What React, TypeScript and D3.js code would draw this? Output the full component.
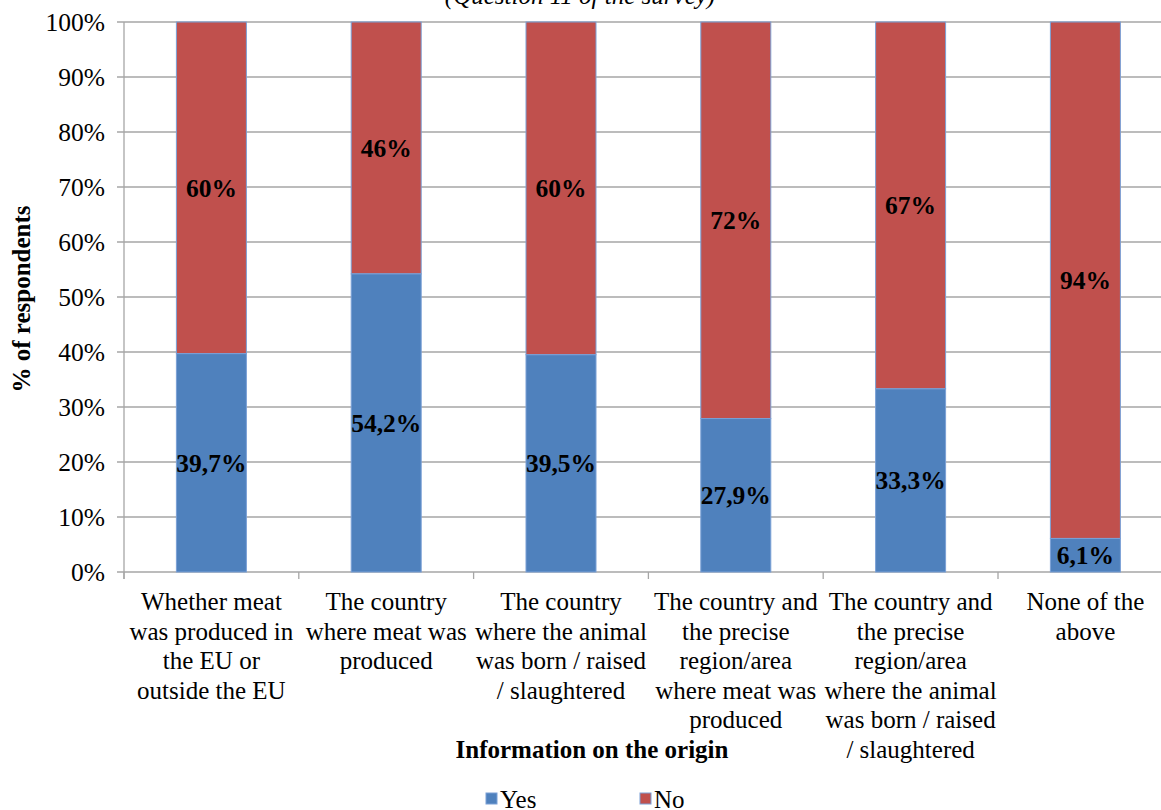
import React, { useEffect } from "react";
import * as d3 from "d3";

const categories: string[][] = [
  ["Whether meat", "was produced in", "the EU or", "outside the EU"],
  ["The country", "where meat was", "produced"],
  ["The country", "where the animal", "was born / raised", "/ slaughtered"],
  ["The country and", "the precise", "region/area", "where meat was", "produced"],
  ["The country and", "the precise", "region/area", "where the animal", "was born / raised", "/ slaughtered"],
  ["None of the", "above"],
];
const yesValues = [39.7, 54.2, 39.5, 27.9, 33.3, 6.1];
const noLabels = [60, 46, 60, 72, 67, 94];
const yesLabels = ["39,7%", "54,2%", "39,5%", "27,9%", "33,3%", "6,1%"];
const yTicks = [0, 10, 20, 30, 40, 50, 60, 70, 80, 90, 100];

const W = 1161;
const H = 810;
const FONT = "'Liberation Serif', 'Times New Roman', serif";
const BLUE = "#4F81BD";
const RED = "#C0504D";
const EDGE = "#7BA0D6";
const GRID = "#A6A6A6";

export default function App() {
  useEffect(() => {
    document.body.style.margin = "0";
  }, []);
  const left = 124;
  const band = 174.8;
  const x = d3
    .scaleBand<number>()
    .domain(d3.range(6))
    .range([left, left + band * 6])
    .paddingInner(0)
    .paddingOuter(0);
  const y = d3.scaleLinear().domain([0, 100]).range([572, 22]);
  const barW = 70;

  return (
    <svg width={W} height={H} style={{ display: "block", fontFamily: FONT }}>
      <rect x={0} y={0} width={W} height={H} fill="#fff" />
      <text x={580} y={4} textAnchor="middle" fontSize={25} fontStyle="italic" fill="#000">
        (Question 11 of the survey)
      </text>
      {yTicks.map((t) => (
        <line key={t} x1={117} x2={W} y1={y(t)} y2={y(t)} stroke={GRID} strokeWidth={1.3} />
      ))}
      <line x1={left} x2={left} y1={y(100)} y2={579} stroke={GRID} strokeWidth={1.3} />
      {d3.range(7).map((i) => (
        <line key={i} x1={left + band * i} x2={left + band * i} y1={572} y2={579} stroke={GRID} strokeWidth={1.3} />
      ))}
      {yTicks.map((t) => (
        <text key={t} x={105} y={y(t) + 9} textAnchor="end" fontSize={25.5} fill="#000">
          {t}%
        </text>
      ))}
      {yesValues.map((v, i) => {
        const cx = (x(i) as number) + x.bandwidth() / 2;
        const x0 = cx - barW / 2;
        return (
          <g key={i}>
            <rect x={x0} y={y(100)} width={barW} height={y(v) - y(100)} fill={RED} stroke={EDGE} strokeWidth={1} />
            <rect x={x0} y={y(v)} width={barW} height={y(0) - y(v)} fill={BLUE} stroke={EDGE} strokeWidth={1} />
            <text x={cx} y={y(v / 2) + 9} textAnchor="middle" fontSize={25.5} fontWeight="bold" fill="#000">
              {yesLabels[i]}
            </text>
            <text x={cx} y={y((v + 100) / 2) + 9} textAnchor="middle" fontSize={25.5} fontWeight="bold" fill="#000">
              {noLabels[i]}%
            </text>
            {categories[i].map((line, j) => (
              <text key={j} x={cx} y={610 + j * 29.5} textAnchor="middle" fontSize={25} fill="#000">
                {line}
              </text>
            ))}
          </g>
        );
      })}
      <text x={592} y={758} textAnchor="middle" fontSize={25} fontWeight="bold" fill="#000">
        Information  on the origin
      </text>
      <text
        transform={`translate(30, ${299}) rotate(-90)`}
        textAnchor="middle"
        fontSize={25}
        fontWeight="bold"
        fill="#000"
      >
        % of respondents
      </text>
      <rect x={486} y={793} width={11} height={11} fill={BLUE} stroke={EDGE} strokeWidth={1} />
      <text x={500} y={808} fontSize={25} fill="#000">Yes</text>
      <rect x={640} y={793} width={11} height={11} fill={RED} stroke={EDGE} strokeWidth={1} />
      <text x={654} y={808} fontSize={25} fill="#000">No</text>
    </svg>
  );
}
